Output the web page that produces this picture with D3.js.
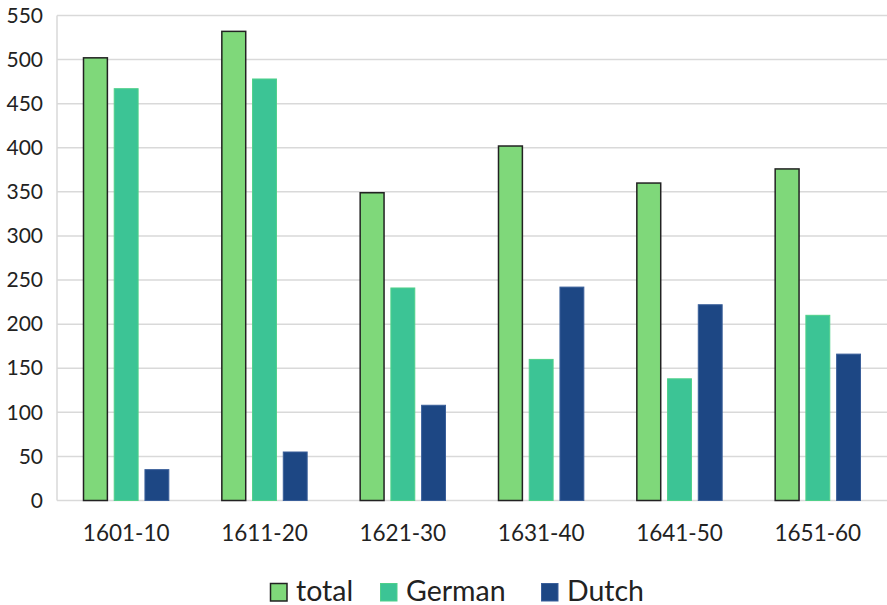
<!DOCTYPE html>
<html><head><meta charset="utf-8">
<script src="https://cdn.jsdelivr.net/npm/d3@7"></script>
<style>body{margin:0;background:#fff}svg{display:block}text{font-family:Lato,"Open Sans",sans-serif;fill:#222}</style>
</head><body><svg id="c" width="887" height="605"></svg>
<script>
const categories = ["1601-10","1611-20","1621-30","1631-40","1641-50","1651-60"];
const seriesNames = ["total","German","Dutch"];
const total  = [502, 532, 349, 402, 360, 376];
const german = [467, 478, 241, 160, 138, 210];
const dutch  = [35, 55, 108, 242, 222, 166];
const yTicks = [0,50,100,150,200,250,300,350,400,450,500,550];
const colors = ["#7fd87a","#3cc495","#1d4784"];
const strokes = ["#222","#4fd08a","#3a5f9a"];

const values = [total, german, dutch];
const svg = d3.select("#c");
const L = 57, R = 887, T = 15.5, B = 500.5;
const x0 = d3.scaleBand().domain(categories).range([L, R]).paddingInner(0).paddingOuter(0);
const x1 = d3.scaleBand().domain(seriesNames).range([26, x0.bandwidth()-26]).paddingInner(0.19).paddingOuter(0);
const y = d3.scaleLinear().domain([0,550]).range([B, T]);

// gridlines
svg.append("g").selectAll("line").data(yTicks).join("line")
  .attr("x1", L).attr("x2", R).attr("y1", d=>y(d)).attr("y2", d=>y(d))
  .attr("stroke", "#d9d9d9").attr("stroke-width", 1.5);
svg.append("line").attr("x1", L).attr("x2", L).attr("y1", T).attr("y2", B)
  .attr("stroke", "#d9d9d9").attr("stroke-width", 1.5);

// y axis
const ya = svg.append("g").attr("transform", `translate(${L},0)`)
  .call(d3.axisLeft(y).tickValues(yTicks).tickSize(0).tickPadding(14));
ya.select(".domain").remove();
ya.selectAll("text").style("font-size","21px").style("font-family","Lato,'Open Sans',sans-serif").attr("fill","#222");

// x axis
const xa = svg.append("g").attr("transform", `translate(0,${B})`)
  .call(d3.axisBottom(x0).tickSize(0).tickPadding(25));
xa.select(".domain").remove();
xa.selectAll("text").style("font-size","22.5px").style("font-family","Lato,'Open Sans',sans-serif").attr("fill","#222");

// bars
const g = svg.append("g");
categories.forEach((c, i) => {
  seriesNames.forEach((s, j) => {
    const v = values[j][i];
    g.append("rect")
      .attr("x", x0(c) + x1(s) + 0.5)
      .attr("y", y(v))
      .attr("width", x1.bandwidth() - 1)
      .attr("height", B - y(v))
      .attr("fill", colors[j])
      .attr("stroke", strokes[j])
      .attr("stroke-width", j === 0 ? 1.5 : 1);
  });
});

// legend
const legX = [270, 380, 541];
const lg = svg.append("g");
seriesNames.forEach((s, j) => {
  lg.append("rect").attr("x", legX[j]+0.5).attr("y", 583.5).attr("width", 16.5).attr("height", 17.5)
    .attr("fill", colors[j]).attr("stroke", strokes[j]).attr("stroke-width", j===0?1.5:1);
  lg.append("text").attr("x", legX[j] + 26).attr("y", 600.5).text(s)
    .style("font-size","28.5px");
});
</script></body></html>
